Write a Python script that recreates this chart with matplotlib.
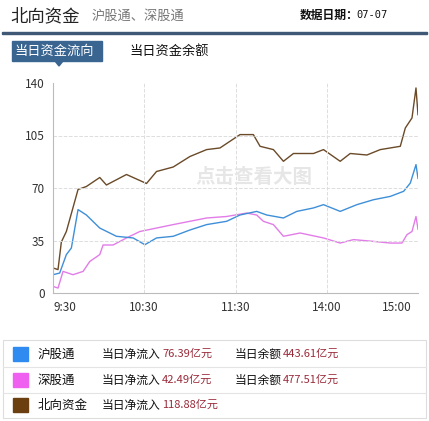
import matplotlib
matplotlib.use("Agg")
import matplotlib.pyplot as plt
from matplotlib.patches import Rectangle, Polygon

plt.rcParams['font.family'] = ['Noto Sans CJK SC', 'DejaVu Sans']

W, H = 429, 421

# time axis positions (chart units) and values
north_x = [40, 55, 65, 80, 100, 115, 140, 180, 200, 260, 320, 350, 400, 450, 500, 540, 600, 640, 660,
           700, 730, 760, 820, 850, 900, 930, 980, 1020, 1080, 1095, 1115, 1127, 1133]
north_y = [16.7, 15.6, 34, 41, 57, 69, 71, 77, 72, 79, 73, 81, 84, 91, 95.6, 96.7, 105.6, 105.6, 97.8,
           95.6, 87.8, 93, 93, 95.6, 87.8, 93, 92, 95.6, 97.8, 110, 116.7, 136.7, 118.88]
sh_x = [40, 60, 80, 95, 115, 140, 180, 230, 280, 315, 350, 400, 450, 500, 560, 600, 650, 680, 730,
        770, 820, 850, 900, 950, 1000, 1050, 1090, 1110, 1127, 1133]
sh_y = [12.2, 13.3, 25.6, 30, 55.6, 52, 43.3, 37.8, 36.7, 32.2, 36.7, 37.8, 42, 45.6, 47.8, 52, 54.4, 52, 50,
        54.4, 56.7, 58.9, 54.4, 58.9, 62.2, 64.4, 67.8, 73.3, 85.6, 76.39]
sz_x = [40, 55, 70, 100, 130, 150, 180, 190, 220, 260, 300, 350, 400, 450, 500, 560, 620, 650, 670,
        700, 730, 780, 850, 900, 940, 1000, 1050, 1085, 1100, 1115, 1127, 1133]
sz_y = [4.4, 3.3, 14.4, 12.2, 14.4, 21, 25.6, 32, 32, 36.7, 41, 43.3, 45.6, 47.8, 50, 51, 53.3, 52, 47.8,
        45.6, 37.8, 40, 36.7, 33.3, 35.6, 34.4, 33.3, 33.3, 38.9, 41, 51, 42.49]

tick_pos = [75, 313, 588, 860, 1070]
tick_labels = ['9:30', '10:30', '11:30', '14:00', '15:00']
y_ticks = [0, 35, 70, 105, 140]

legend_names = ['沪股通', '深股通', '北向资金']
legend_flow = ['76.39亿元', '42.49亿元', '118.88亿元']
legend_bal = ['443.61亿元', '477.51亿元', None]
legend_colors = ['#2f8bf0', '#f060f0', '#6b3f10']

fig = plt.figure(figsize=(W / 100, H / 100), dpi=100)

def px(x, y):
    return x / W, 1 - y / H

def txt(x, y, s, **kw):
    fig.text(*px(x, y), s, va='center', **kw)

# header
txt(10, 16, '北向资金', fontsize=12.5, color='#222222')
txt(92, 16, '沪股通、深股通', fontsize=9.5, color='#777777')
txt(300, 15, '数据日期：', fontsize=8.5, color='#111111', weight='bold')
txt(356, 15, '07-07', fontsize=7.5, color='#111111', family='DejaVu Sans Mono')
fig.add_artist(Rectangle(px(2, 34), 425 / W, 2 / H, color='#3e5876', transform=fig.transFigure))
fig.add_artist(Rectangle(px(12, 61), 90 / W, 20 / H, color='#3a6591', transform=fig.transFigure))
fig.add_artist(Polygon([px(55, 61), px(63, 61), px(59, 66)], color='#3a6591', transform=fig.transFigure))
txt(14, 51, '当日资金流向', fontsize=9.5, color='white')
txt(129, 51, '当日资金余额', fontsize=9.5, color='#111111')

# chart
l, r, t, b = 53, 418, 83, 293
ax = fig.add_axes([l / W, 1 - b / H, (r - l) / W, (b - t) / H])
ax.plot(sz_x, sz_y, color='#e27ce8', lw=1)
ax.plot(sh_x, sh_y, color='#3f8fd8', lw=1)
ax.plot(north_x, north_y, color='#6a4a28', lw=1)
ax.set_xlim(40, 1133)
ax.set_ylim(0, 140)
ax.set_yticks(y_ticks)
ax.set_xticks(tick_pos)
ax.set_xticklabels(tick_labels)
ax.tick_params(length=0, labelsize=8.5, colors='#333333', pad=6)
for v in y_ticks[1:-1]:
    ax.axhline(v, color='#dddddd', ls='--', lw=0.7)
for v in tick_pos[1:4]:
    ax.axvline(v, color='#dddddd', ls='--', lw=0.7)
for s in ['top', 'right']:
    ax.spines[s].set_visible(False)
for s in ['left', 'bottom']:
    ax.spines[s].set_color('#bbbbbb')
ax.text(0.55, 0.55, '点击查看大图', transform=ax.transAxes, ha='center', va='center',
        fontsize=14, color='#e6e6e6', weight='bold')

# legend table
fig.add_artist(Rectangle(px(3, 418), 423 / W, 78 / H, fill=False, ec='#dddddd', lw=0.8,
                         transform=fig.transFigure))
rows = [354, 380, 405]
for i, y in enumerate(rows):
    fig.add_artist(Rectangle(px(13, y + 7), 15 / W, 14 / H, color=legend_colors[i], transform=fig.transFigure))
    txt(38, y, legend_names[i], fontsize=9, color='#111111')
    txt(102, y, '当日净流入', fontsize=8.5, color='#111111')
    txt(162, y, legend_flow[i], fontsize=8, color='#9a2a3a')
    if legend_bal[i]:
        txt(235, y, '当日余额', fontsize=8.5, color='#111111')
        txt(283, y, legend_bal[i], fontsize=8, color='#9a2a3a')
    if i < 2:
        fig.add_artist(plt.Line2D([3 / W, 426 / W], [1 - (y + 13) / H] * 2, color='#e4e4e4', lw=0.8,
                                  transform=fig.transFigure))

fig.savefig('out.png', dpi=100)
